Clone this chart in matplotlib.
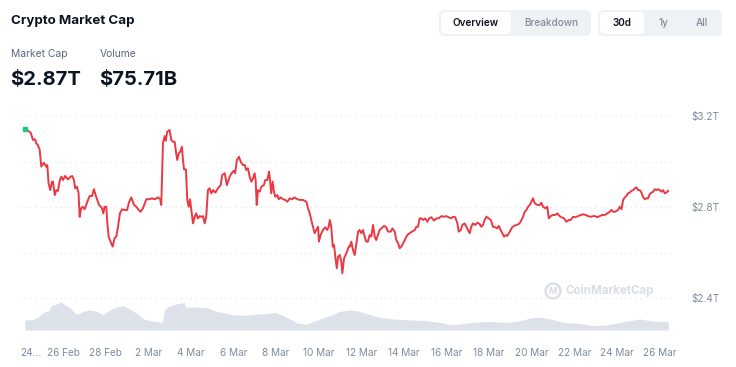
import matplotlib
matplotlib.use("Agg")
import matplotlib.pyplot as plt
from matplotlib.patches import FancyBboxPatch, Circle
from matplotlib.transforms import IdentityTransform

plt.rcParams['font.family'] = ['Inter', 'DejaVu Sans']

# ---- data ----
price_days = [
    0.23, 0.35, 0.48, 0.59, 0.69, 0.74, 0.82, 0.85, 0.90, 0.98,
    1.10, 1.21, 1.26, 1.32, 1.40, 1.48, 1.53, 1.61, 1.68, 1.76,
    1.85, 1.92, 2.00, 2.10, 2.23, 2.36, 2.43, 2.51, 2.57, 2.65,
    2.73, 2.78, 2.85, 2.93, 3.01, 3.09, 3.17, 3.25, 3.36, 3.45,
    3.53, 3.61, 3.69, 3.77, 3.83, 3.89, 3.95, 4.03, 4.08, 4.14,
    4.23, 4.33, 4.42, 4.50, 4.58, 4.67, 4.77, 4.89, 5.01, 5.09,
    5.20, 5.28, 5.33, 5.44, 5.55, 5.64, 5.75, 5.91, 6.07, 6.17,
    6.30, 6.46, 6.56, 6.61, 6.69, 6.77, 6.82, 6.89, 7.00, 7.08,
    7.16, 7.24, 7.31, 7.36, 7.43, 7.50, 7.58, 7.63, 7.68, 7.77,
    7.83, 7.90, 7.96, 8.02, 8.10, 8.18, 8.25, 8.33, 8.41, 8.49,
    8.57, 8.65, 8.72, 8.80, 8.88, 8.96, 9.04, 9.15, 9.27, 9.40,
    9.47, 9.59, 9.69, 9.82, 9.93, 10.02, 10.08, 10.16, 10.26, 10.34,
    10.45, 10.53, 10.60, 10.68, 10.76, 10.84, 10.92, 10.99, 11.04, 11.09,
    11.15, 11.23, 11.31, 11.43, 11.49, 11.59, 11.67, 11.73, 11.77, 11.84,
    11.90, 11.96, 12.06, 12.12, 12.22, 12.32, 12.43, 12.53, 12.64, 12.75,
    12.87, 13.00, 13.11, 13.26, 13.42, 13.50, 13.58, 13.65, 13.73, 13.81,
    13.89, 13.97, 14.01, 14.09, 14.20, 14.31, 14.40, 14.47, 14.52, 14.59,
    14.66, 14.72, 14.78, 14.85, 14.91, 14.99, 15.06, 15.11, 15.19, 15.30,
    15.41, 15.46, 15.53, 15.61, 15.69, 15.77, 15.85, 15.92, 16.00, 16.08,
    16.16, 16.23, 16.31, 16.39, 16.47, 16.55, 16.63, 16.70, 16.78, 16.86,
    16.94, 17.07, 17.17, 17.25, 17.38, 17.46, 17.57, 17.64, 17.72, 17.80,
    17.88, 17.96, 18.04, 18.16, 18.27, 18.38, 18.51, 18.58, 18.66, 18.74,
    18.82, 18.90, 19.00, 19.10, 19.18, 19.29, 19.41, 19.52, 19.63, 19.76,
    19.88, 19.99, 20.10, 20.20, 20.31, 20.41, 20.51, 20.57, 20.67, 20.74,
    20.85, 20.93, 21.01, 21.09, 21.16, 21.24, 21.35, 21.45, 21.56, 21.63,
    21.71, 21.79, 21.87, 21.98, 22.08, 22.18, 22.29, 22.38, 22.45, 22.54,
    22.62, 22.70, 22.78, 22.85, 22.97, 23.08, 23.17, 23.28, 23.39, 23.48,
    23.59, 23.67, 23.75, 23.83, 23.91, 23.98, 24.06, 24.14, 24.26, 24.38,
    24.45, 24.53, 24.64, 24.73, 24.80, 24.89, 25.00, 25.11, 25.20, 25.31,
    25.39, 25.52, 25.62, 25.74, 25.83, 25.94, 26.05, 26.17, 26.30, 26.41,
    26.52, 26.64, 26.77, 26.88, 26.96, 27.08, 27.19, 27.30, 27.43, 27.55,
    27.66, 27.74, 27.82, 27.92, 28.05, 28.13, 28.21, 28.29, 28.37, 28.44,
    28.52, 28.60, 28.68, 28.76, 28.84, 28.91, 28.99, 29.07, 29.15, 29.23,
    29.31, 29.38, 29.46, 29.54, 29.62, 29.70, 29.77, 29.85, 29.93, 30.01,
    30.08, 30.16, 30.24, 30.32, 30.40,
]
market_cap_t = [
    3.144, 3.136, 3.127, 3.095, 3.098, 3.080, 3.073, 3.065, 3.054, 2.978,
    2.995, 2.978, 2.985, 2.905, 2.875, 2.912, 2.912, 2.853, 2.875, 2.871,
    2.919, 2.934, 2.919, 2.937, 2.922, 2.934, 2.937, 2.919, 2.883, 2.890,
    2.861, 2.758, 2.795, 2.802, 2.791, 2.810, 2.832, 2.849, 2.849, 2.879,
    2.853, 2.832, 2.810, 2.802, 2.795, 2.773, 2.802, 2.802, 2.729, 2.671,
    2.649, 2.627, 2.664, 2.671, 2.714, 2.773, 2.791, 2.788, 2.788, 2.820,
    2.843, 2.824, 2.810, 2.802, 2.788, 2.780, 2.795, 2.835, 2.835, 2.839,
    2.835, 2.843, 2.835, 2.810, 3.080, 3.112, 3.092, 3.131, 3.139, 3.095,
    3.087, 3.087, 3.036, 3.007, 3.036, 3.043, 3.065, 3.007, 2.966, 2.966,
    2.832, 2.802, 2.835, 2.788, 2.729, 2.758, 2.773, 2.751, 2.761, 2.758,
    2.761, 2.729, 2.758, 2.875, 2.883, 2.861, 2.875, 2.864, 2.883, 2.897,
    2.941, 2.949, 2.897, 2.934, 2.951, 2.960, 2.949, 3.007, 3.021, 2.999,
    2.985, 2.985, 2.963, 2.971, 2.934, 2.912, 2.927, 2.949, 2.919, 2.810,
    2.875, 2.868, 2.890, 2.897, 2.919, 2.919, 2.956, 2.905, 2.861, 2.912,
    2.868, 2.846, 2.853, 2.835, 2.843, 2.835, 2.832, 2.824, 2.839, 2.835,
    2.843, 2.835, 2.832, 2.832, 2.824, 2.795, 2.773, 2.744, 2.714, 2.686,
    2.700, 2.714, 2.649, 2.678, 2.700, 2.712, 2.700, 2.714, 2.744, 2.714,
    2.627, 2.634, 2.583, 2.532, 2.583, 2.590, 2.561, 2.510, 2.576, 2.598,
    2.627, 2.627, 2.649, 2.612, 2.590, 2.642, 2.693, 2.700, 2.686, 2.700,
    2.671, 2.649, 2.649, 2.678, 2.671, 2.722, 2.671, 2.656, 2.678, 2.700,
    2.707, 2.718, 2.712, 2.693, 2.693, 2.707, 2.693, 2.656, 2.644, 2.620,
    2.627, 2.642, 2.656, 2.678, 2.686, 2.693, 2.700, 2.714, 2.714, 2.751,
    2.751, 2.744, 2.751, 2.736, 2.751, 2.756, 2.741, 2.751, 2.751, 2.761,
    2.758, 2.761, 2.756, 2.751, 2.758, 2.756, 2.729, 2.693, 2.700, 2.722,
    2.729, 2.714, 2.700, 2.686, 2.714, 2.729, 2.722, 2.732, 2.726, 2.714,
    2.722, 2.744, 2.758, 2.751, 2.744, 2.714, 2.712, 2.707, 2.718, 2.700,
    2.686, 2.671, 2.678, 2.674, 2.693, 2.712, 2.718, 2.722, 2.726, 2.736,
    2.758, 2.780, 2.788, 2.802, 2.810, 2.824, 2.839, 2.817, 2.810, 2.810,
    2.820, 2.802, 2.795, 2.802, 2.751, 2.761, 2.766, 2.766, 2.773, 2.761,
    2.756, 2.751, 2.736, 2.744, 2.744, 2.758, 2.756, 2.761, 2.766, 2.769,
    2.766, 2.761, 2.758, 2.761, 2.761, 2.756, 2.761, 2.766, 2.766, 2.773,
    2.780, 2.788, 2.780, 2.780, 2.788, 2.802, 2.791, 2.832, 2.843, 2.849,
    2.861, 2.864, 2.872, 2.875, 2.883, 2.887, 2.875, 2.875, 2.864, 2.843,
    2.835, 2.839, 2.839, 2.858, 2.864, 2.868, 2.879, 2.875, 2.879, 2.875,
    2.868, 2.875, 2.861, 2.864, 2.872,
]
volume_days = [
    0.21, 0.60, 0.84, 1.07, 1.31, 1.46, 1.70, 1.90, 2.09, 2.32,
    2.56, 2.71, 2.95, 3.26, 3.58, 3.89, 4.12, 4.44, 4.83, 5.14,
    5.46, 5.77, 6.08, 6.39, 6.66, 6.78, 7.02, 7.33, 7.69, 7.77,
    8.11, 8.43, 8.82, 9.21, 9.68, 9.99, 10.62, 11.09, 11.56, 11.95,
    12.26, 12.65, 13.04, 13.44, 13.83, 14.30, 14.69, 15.00, 15.47, 15.94,
    16.25, 16.88, 17.50, 18.29, 19.07, 19.69, 20.16, 20.63, 21.26, 21.89,
    22.83, 23.45, 24.07, 24.47, 24.86, 25.48, 26.27, 26.89, 27.52, 28.15,
    28.77, 29.08, 29.55, 30.02, 30.41,
]
volume_b = [
    88, 93, 117, 155, 170, 214, 229, 249, 220, 199,
    146, 141, 164, 176, 164, 135, 170, 199, 214, 185,
    146, 97, 82, 76, 67, 185, 214, 229, 243, 199,
    205, 199, 194, 164, 146, 132, 132, 141, 146, 155,
    132, 97, 58, 53, 82, 111, 141, 164, 176, 164,
    143, 111, 97, 88, 82, 67, 47, 53, 67, 76,
    67, 82, 111, 111, 97, 67, 58, 38, 44, 67,
    88, 97, 82, 76, 76,
]
tick_days = [0, 2, 4, 6, 8, 10, 12, 14, 16, 18, 20, 22, 24, 26, 28, 30]
tick_labels = ["24...", "26 Feb", "28 Feb", "2 Mar", "4 Mar", "6 Mar", "8 Mar",
               "10 Mar", "12 Mar", "14 Mar", "16 Mar", "18 Mar", "20 Mar",
               "22 Mar", "24 Mar", "26 Mar"]
y_ticks = [2.4, 2.8, 3.2]
y_tick_labels = ["$2.4T", "$2.8T", "$3.2T"]
y_grid = [2.4, 2.6, 2.8, 3.0, 3.2]

assert len(price_days) == len(market_cap_t)
assert len(volume_days) == len(volume_b)

W, H = 736, 367
fig = plt.figure(figsize=(W / 100, H / 100), dpi=100)
fig.patch.set_facecolor("white")

def fx(x):
    return x / W

def fy(y):
    return 1 - y / H

RED = "#ea3943"
GRAY = "#808a9d"
DARK = "#0d1421"

# axes: px x 20..673, px y 105..330
ax_left, ax_right, ax_top, ax_bot = 20, 673, 105, 330
rect = [fx(ax_left), fy(ax_bot), (ax_right - ax_left) / W, (ax_bot - ax_top) / H]

axv = fig.add_axes(rect)
axv.fill_between(volume_days, 0, volume_b, color="#dde1ea", linewidth=0)
axv.set_ylim(0, (ax_bot - ax_top) * 8.8)
axv.set_xlim(-0.02, 30.63)
axv.axis("off")

ax = fig.add_axes(rect)
ax.patch.set_alpha(0)
for g in y_grid:
    ax.axhline(g, color="#e3e6eb", lw=0.9, ls=(0, (1, 3)), zorder=1)
ax.plot(price_days, market_cap_t, color=RED, lw=1.4, zorder=3, solid_joinstyle="round")
ax.plot(price_days[:1], market_cap_t[:1], ls="none", marker="s", ms=2.2,
        mfc="#16c784", mec="#16c784", zorder=4)
ax.set_xlim(-0.02, 30.63)
ax.set_ylim(3.2 - 214 / 228, 3.2 + 11 / 228)
for s in ax.spines.values():
    s.set_visible(False)
ax.yaxis.tick_right()
ax.set_yticks(y_ticks)
ax.set_yticklabels(y_tick_labels)
ax.tick_params(axis="y", length=0, pad=13, labelsize=7.2, labelcolor=GRAY)
ax.set_xticks(tick_days)
ax.set_xticklabels(tick_labels)
ax.tick_params(axis="x", length=0, pad=13, labelsize=7.2, labelcolor=GRAY)
ax.get_xticklabels()[0].set_horizontalalignment("left")

# watermark
fig.text(fx(566), fy(291), "CoinMarketCap", fontsize=8.3, fontweight="bold",
         color="#dadde3", va="center", ha="left")
fig.patches.append(Circle((553, H - 291), 7.5, transform=IdentityTransform(),
                          fill=False, ec="#dadde3", lw=1.6))
fig.text(fx(553), fy(291.5), "M", fontsize=6.5, fontweight="bold", color="#dadde3",
         ha="center", va="center")

# header text
fig.text(fx(11), fy(21), "Crypto Market Cap", fontsize=9.6, fontweight="bold",
         color=DARK, va="center", ha="left")
fig.text(fx(11), fy(54), "Market Cap", fontsize=7.4, color="#58667e",
         va="center", ha="left")
fig.text(fx(100), fy(54), "Volume", fontsize=7.4, color="#58667e",
         va="center", ha="left")
fig.text(fx(10), fy(80), "$2.87T", fontsize=14.5, fontweight="bold",
         color=DARK, va="center", ha="left")
fig.text(fx(99), fy(80), "$75.71B", fontsize=14.5, fontweight="bold",
         color=DARK, va="center", ha="left")

# buttons
def rbox(x0, y0, x1, y1, fc, r=5):
    p = FancyBboxPatch((x0 + r, H - y1 + r), (x1 - x0) - 2 * r, (y1 - y0) - 2 * r,
                       boxstyle=f"round,pad={r}", transform=IdentityTransform(),
                       fc=fc, ec="none")
    fig.patches.append(p)

rbox(439, 10, 591, 36, "#eff2f5", r=6)
rbox(441, 12, 511, 34, "white", r=5)
rbox(598, 10, 722, 36, "#eff2f5", r=6)
rbox(600, 12, 644, 34, "white", r=5)

fig.text(fx(476), fy(23), "Overview", fontsize=7.2, fontweight="semibold",
         color=DARK, ha="center", va="center")
fig.text(fx(551), fy(23), "Breakdown", fontsize=7.2, fontweight="medium",
         color=GRAY, ha="center", va="center")
fig.text(fx(622), fy(23), "30d", fontsize=7.2, fontweight="semibold",
         color=DARK, ha="center", va="center")
fig.text(fx(663), fy(23), "1y", fontsize=7.2, fontweight="medium",
         color=GRAY, ha="center", va="center")
fig.text(fx(701.5), fy(23), "All", fontsize=7.2, fontweight="medium",
         color=GRAY, ha="center", va="center")

fig.savefig("out.png", dpi=100, facecolor="white")
